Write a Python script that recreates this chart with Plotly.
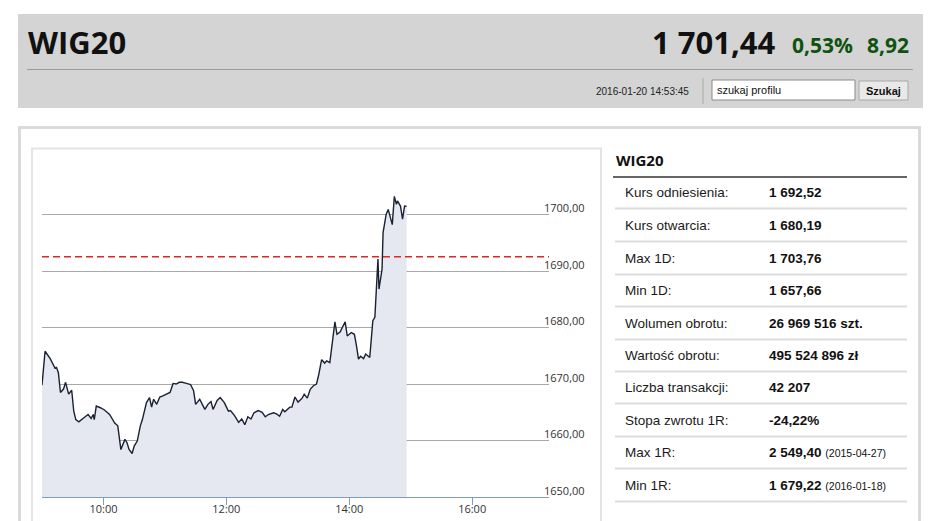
import plotly.graph_objects as go

# ---------------- data ----------------
day = "2016-01-20"
times = ["09:00","09:03","09:08","09:13","09:14","09:16","09:18","09:21","09:23","09:26",
         "09:29","09:31","09:33","09:36","09:40","09:43","09:45","09:48","09:50","09:51",
         "09:53","09:57","10:01","10:06","10:11","10:14","10:17","10:21","10:23","10:25",
         "10:28","10:30","10:33","10:36","10:38","10:42","10:45","10:47","10:49","10:52",
         "10:55","10:58","11:02","11:05","11:08","11:11","11:14","11:17","11:21","11:25",
         "11:28","11:30","11:34","11:39","11:42","11:45","11:47","11:51","11:54","11:58",
         "12:02","12:04","12:08","12:12","12:15","12:18","12:21","12:24","12:27","12:31",
         "12:35","12:38","12:41","12:46","12:49","12:52","12:55","12:57","13:02","13:04",
         "13:07","13:10","13:14","13:16","13:19","13:22","13:25","13:28","13:30","13:33",
         "13:36","13:38","13:41","13:43","13:46","13:48","13:51","13:56","13:58","14:02",
         "14:05","14:07","14:09","14:11","14:14","14:16","14:20","14:23","14:25","14:28",
         "14:29","14:32","14:33","14:36","14:38","14:42","14:44","14:46","14:47","14:50",
         "14:52","14:54","14:56"]
values = [1669.8,1675.8,1674.5,1672.7,1673.0,1672.0,1668.5,1669.1,1670.3,1668.2,
          1668.9,1665.2,1663.7,1663.3,1663.9,1664.3,1664.6,1663.9,1664.6,1663.7,
          1666.1,1665.8,1665.4,1664.6,1663.1,1662.6,1658.4,1660.2,1659.6,1658.4,
          1657.7,1659.0,1659.9,1662.6,1663.7,1666.7,1667.6,1665.9,1667.3,1666.4,
          1667.7,1667.9,1668.2,1668.5,1670.1,1670.0,1670.3,1670.3,1670.1,1669.9,
          1668.8,1666.4,1667.3,1665.5,1666.4,1666.9,1665.5,1667.1,1667.6,1666.7,
          1665.2,1665.3,1664.4,1663.2,1663.8,1662.8,1664.2,1663.8,1664.9,1665.3,
          1665.0,1664.2,1664.6,1664.9,1664.7,1664.3,1665.5,1665.1,1665.9,1665.9,
          1667.7,1666.8,1667.5,1668.2,1667.5,1669.1,1669.7,1670.0,1671.5,1674.3,
          1673.7,1674.1,1673.8,1676.5,1681.0,1678.8,1679.2,1681.0,1678.5,1679.1,
          1678.8,1676.8,1674.4,1674.9,1674.5,1675.3,1674.7,1681.2,1681.8,1692.1,
          1686.8,1690.3,1696.8,1700.0,1700.9,1698.2,1703.2,1701.8,1702.4,1701.5,
          1699.2,1701.5,1701.44]
reference_level = 1692.52

y_tickvals = [1650, 1660, 1670, 1680, 1690, 1700, 1710]
y_ticktext = ["1650,00", "1660,00", "1670,00", "1680,00", "1690,00", "1700,00", ""]
x_ticktimes = ["10:00", "12:00", "14:00", "16:00"]
x_range_times = ["09:00", "17:15"]

index_name = "WIG20"
last_value = "1 701,44"
change_pct = "0,53%"
change_abs = "8,92"
timestamp = "2016-01-20 14:53:45"

row_labels = ["Kurs odniesienia:", "Kurs otwarcia:", "Max 1D:", "Min 1D:", "Wolumen obrotu:",
              "Wartość obrotu:", "Liczba transakcji:", "Stopa zwrotu 1R:", "Max 1R:", "Min 1R:"]
row_values = ["1 692,52", "1 680,19", "1 703,76", "1 657,66", "26 969 516 szt.",
              "495 524 896 zł", "42 207", "-24,22%", "2 549,40", "1 679,22"]
row_notes = ["", "", "", "", "", "", "", "", "(2015-04-27)", "(2016-01-18)"]

# ---------------- layout geometry ----------------
W, H = 945, 521
L, R, T, B = 42, 549, 158, 497


def px(x):
    return (x - L) / (R - L)


def py(y):
    return (B - y) / (B - T)


x_dt = [f"{day} {t}" for t in times]

fig = go.Figure()
fig.add_trace(go.Scatter(
    x=x_dt, y=values, mode="lines",
    line=dict(color="#1a2133", width=1.4),
    fill="tozeroy", fillcolor="#e5e8f0",
    hoverinfo="skip", showlegend=False,
))
# reference level (dashed red)
fig.add_trace(go.Scatter(
    x=[f"{day} {x_range_times[0]}", f"{day} {x_range_times[1]}"],
    y=[reference_level, reference_level], mode="lines",
    line=dict(color="#e02525", width=1.3, dash="7px,4px"),
    hoverinfo="skip", showlegend=False,
))

shapes = []


def rect(x0, y0, x1, y1, fill=None, line_color=None, lw=0, layer="below"):
    shapes.append(dict(type="rect", xref="paper", yref="paper",
                       x0=px(x0), x1=px(x1), y0=py(y1), y1=py(y0),
                       fillcolor=fill if fill else "rgba(0,0,0,0)",
                       line=dict(color=line_color if line_color else "rgba(0,0,0,0)", width=lw),
                       layer=layer))


def hline(x0, x1, y, color, lw=1, layer="below"):
    shapes.append(dict(type="line", xref="paper", yref="paper",
                       x0=px(x0), x1=px(x1), y0=py(y), y1=py(y),
                       line=dict(color=color, width=lw), layer=layer))


def vline(x, y0, y1, color, lw=1, layer="below"):
    shapes.append(dict(type="line", xref="paper", yref="paper",
                       x0=px(x), x1=px(x), y0=py(y0), y1=py(y1),
                       line=dict(color=color, width=lw), layer=layer))


# header
rect(18, 14, 923, 108, fill="#d4d4d4")
hline(27, 913, 69.5, "#9c9c9c", 1)
vline(703, 78, 104, "#aaaaaa", 1)
rect(712, 80, 855, 100, fill="#ffffff", line_color="#8a8a8a", lw=1)
rect(859, 81, 908, 100, fill="#e9e9e9", line_color="#a8a8a8", lw=1)

# lower boxes
rect(19.5, 127.5, 919.5, 540, line_color="#dadada", lw=3)
rect(32, 148.5, 601, 540, line_color="#e4e4e4", lw=2)

# right panel
hline(613, 907, 177, "#666666", 2)
row_y = [192, 225, 258, 290, 323, 355, 387, 420, 452, 485]
for yy in row_y:
    hline(615, 907, yy + 16.5, "#dcdcdc", 2)

annotations = []


def text(x, y, s, size, color="#111111", family="Liberation Sans", xanchor="left", bold=False):
    annotations.append(dict(xref="paper", yref="paper", x=px(x), y=py(y),
                            text=(f"<b>{s}</b>" if bold else s), showarrow=False,
                            xanchor=xanchor, yanchor="middle",
                            font=dict(size=size, color=color, family=family)))


text(26, 42, index_name, 31, "#111111", "Open Sans", bold=True)
text(778, 42, last_value, 31, "#111111", "Open Sans", xanchor="right", bold=True)
text(790, 45, change_pct, 21, "#0f520f", "Open Sans", bold=True)
text(911, 45, change_abs, 21, "#0f520f", "Open Sans", xanchor="right", bold=True)
text(691, 92, timestamp, 10, "#222222", "Liberation Sans", xanchor="right")
text(715, 90, "szukaj profilu", 11, "#111111", "Liberation Sans")
text(883.5, 91, "Szukaj", 11, "#111111", "Liberation Sans", xanchor="center", bold=True)

text(614, 160, index_name, 15, "#111111", "Open Sans", bold=True)
for lab, val, note, yy in zip(row_labels, row_values, row_notes, row_y):
    text(623, yy, lab, 13.5, "#1a1a1a", "Liberation Sans")
    s = f"<b>{val}</b>"
    if note:
        s += f" <span style='font-size:10.5px'>{note}</span>"
    text(767, yy, s, 13.5, "#111111", "Liberation Sans")

fig.update_layout(
    width=W, height=H, autosize=False,
    margin=dict(l=L, r=W - R, t=T, b=H - B, pad=0, autoexpand=False),
    paper_bgcolor="#ffffff", plot_bgcolor="#ffffff",
    shapes=shapes, annotations=annotations,
    showlegend=False,
    xaxis=dict(
        type="date", automargin=False,
        range=[f"{day} {x_range_times[0]}", f"{day} {x_range_times[1]}"],
        tickvals=[f"{day} {t}" for t in x_ticktimes],
        ticktext=x_ticktimes,
        ticks="outside", ticklen=7, tickcolor="#7f9cc4", tickwidth=1,
        showline=True, linecolor="#7f9cc4", linewidth=1,
        showgrid=False, zeroline=False,
        ticklabelstandoff=-5,
        tickfont=dict(family="Open Sans", size=11, color="#333333"),
        fixedrange=True,
    ),
    yaxis=dict(
        range=[1650, 1710], automargin=False,
        side="right",
        tickvals=y_tickvals, ticktext=y_ticktext,
        showgrid=True, gridcolor="#a8a8a8", gridwidth=1,
        zeroline=False, showline=False, ticks="",
        ticklabelshift=-6, ticklabelstandoff=-6,
        tickfont=dict(family="Open Sans", size=11, color="#333333"),
        fixedrange=True,
    ),
)

fig.write_html(
    "out.html",
    config={"displayModeBar": False, "staticPlot": True},
    post_script="document.body.style.margin='0';document.body.style.overflow='hidden';",
)
